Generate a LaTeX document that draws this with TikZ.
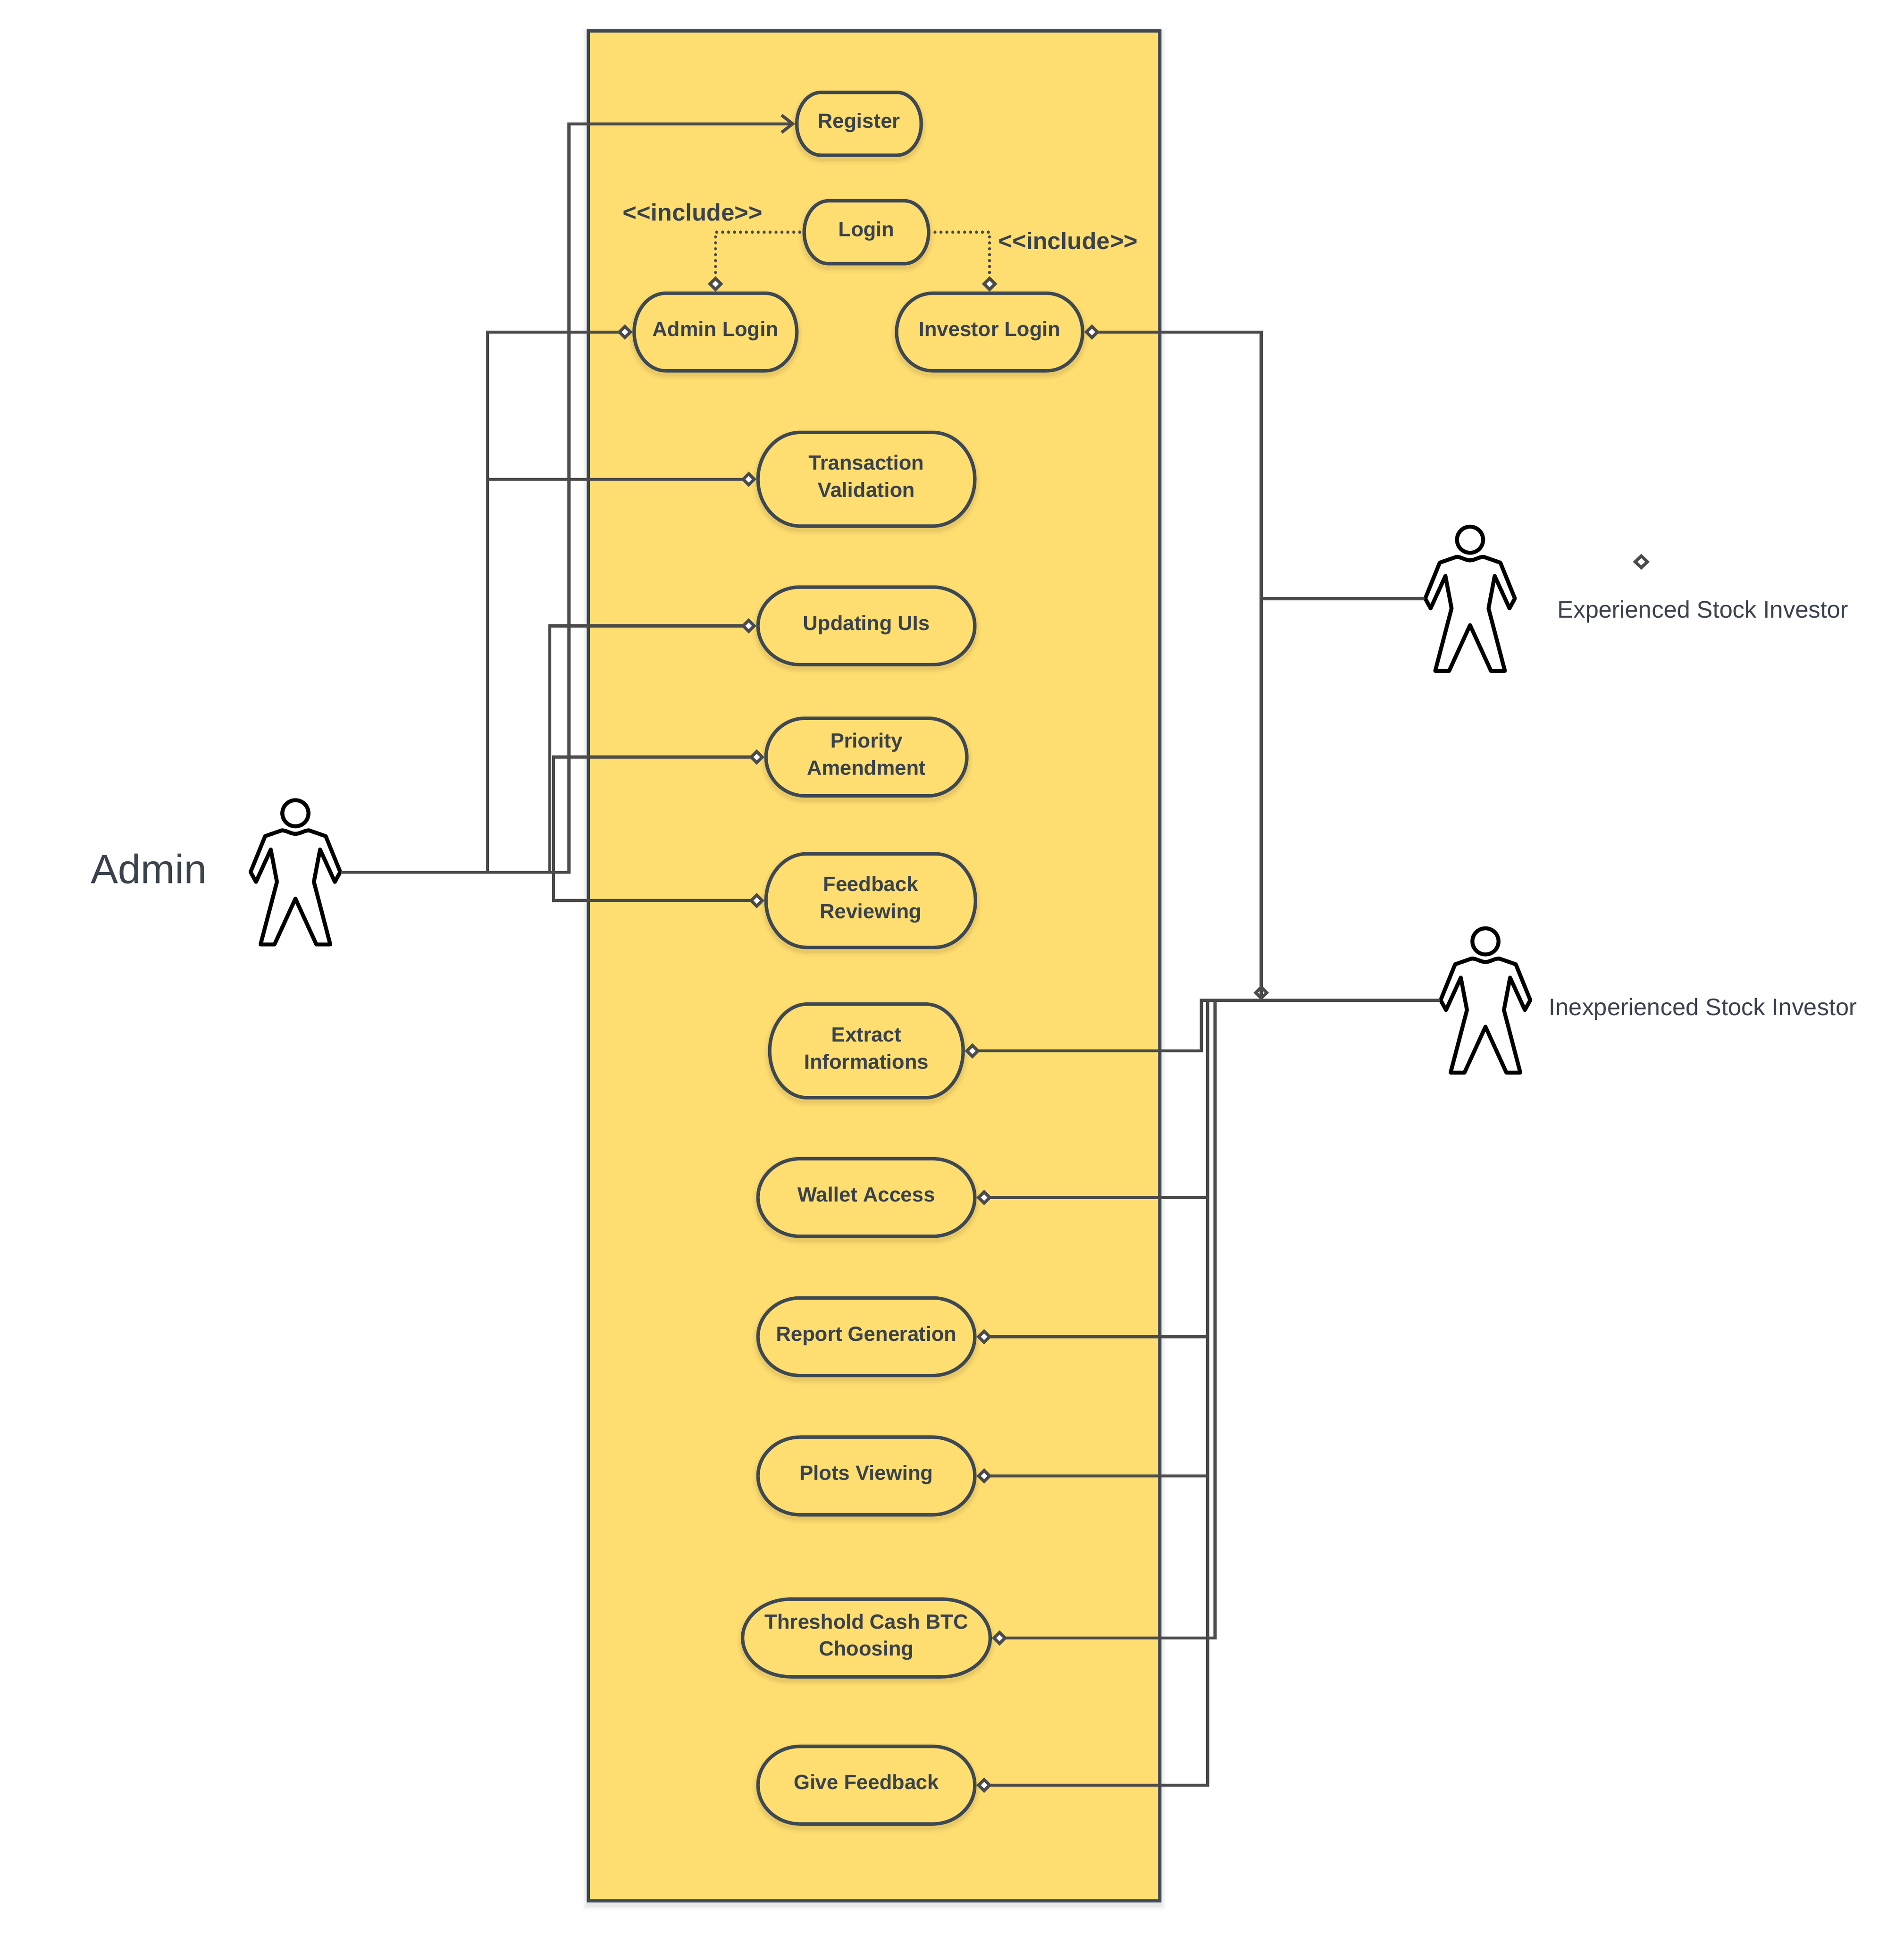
\documentclass[tikz,border=0pt]{standalone}
\usepackage{fontspec}
\usetikzlibrary{arrows.meta,shapes.geometric}
\newfontfamily\lbl{Liberation Sans}
\definecolor{yel}{HTML}{FFDE71}
\definecolor{edge}{HTML}{3E4853}
\definecolor{wire}{HTML}{4A4A4A}
\definecolor{ink}{HTML}{3A424D}
\newcommand\oneline[1]{\raisebox{-3.5pt}[0pt][0pt]{#1}}
\newcommand\twolines[2]{\makebox[0pt]{\raisebox{7.5pt}[0pt][0pt]{#1}}\makebox[0pt]{\raisebox{-14.5pt}[0pt][0pt]{#2}}}
\tikzset{
  softsh/.style={
    preaction={draw=black,draw opacity=.02,line width=10pt,transform canvas={yshift=-2.5pt}},
    preaction={draw=black,draw opacity=.03,line width=7pt,transform canvas={yshift=-2.5pt}},
    preaction={draw=black,draw opacity=.04,line width=4pt,transform canvas={yshift=-2.5pt}}},
  ucshape/.style={draw=edge,fill=yel,line width=2.8pt,softsh},
  uctext/.style={rectangle,inner sep=0pt,outer sep=1.3pt,text=ink,font=\lbl\bfseries\fontsize{16.7}{22}\selectfont},
  incl/.style={anchor=base west,inner sep=0pt,text=ink,font=\lbl\bfseries\fontsize{19.4}{23}\selectfont},
  caption/.style={anchor=base,inner sep=0pt,text=ink,font=\lbl\fontsize{19.4}{23}\selectfont},
  actorbox/.style={rectangle,inner sep=0pt,outer sep=0pt,minimum width=74pt,minimum height=120pt},
  wired/.style={draw=wire,line width=2.5pt},
  assoc/.style={wired,{Diamond[length=12.5pt,width=12.5pt,fill=white]}-},
  dotline/.style={draw=wire,line width=2.5pt,line cap=round,dash pattern=on 0.01pt off 4.8pt,{Diamond[length=12.5pt,width=12.5pt,fill=white]}-},
  person/.pic={
    \draw[black,line width=3.2pt,fill=white] (0,-49) circle[radius=10.6];
    \draw[black,line width=3.2pt,fill=white,line join=round]
      (0,-32.3) .. controls (4,-32.3) and (7,-35.1) .. (11.1,-35.1) -- (24.6,-30.4) -- (36.4,-1.3) -- (32,6.7)
      -- (20,-19.6) -- (15,6.7) -- (28.3,57.5) -- (17,57.5) -- (0,20.3)
      -- (-17,57.5) -- (-28.3,57.5) -- (-15,6.7) -- (-20,-19.6) -- (-32,6.7) -- (-36.4,-1.3) -- (-24.6,-30.4)
      -- (-11.1,-35.1) .. controls (-7,-35.1) and (-4,-32.3) .. (0,-32.3) -- cycle;
  }
}
\newcommand\usecase[6]{%
  \pgfmathsetmacro\uL{#2-#4/2}\pgfmathsetmacro\uR{#2+#4/2}%
  \pgfmathsetmacro\uT{#3-#5/2}\pgfmathsetmacro\uB{#3+#5/2}%
  \pgfmathsetmacro\uA{\uL+0.195*#4}\pgfmathsetmacro\uC{\uR-0.195*#4}%
  \pgfmathsetmacro\uk{0.5523*0.195*#4}\pgfmathsetmacro\uh{0.5523*#5/2}%
  \pgfmathsetmacro\uAk{\uA-\uk}\pgfmathsetmacro\uCk{\uC+\uk}%
  \pgfmathsetmacro\uMu{#3-\uh}\pgfmathsetmacro\uMd{#3+\uh}%
  \path[ucshape] (\uA,\uT) -- (\uC,\uT) .. controls (\uCk,\uT) and (\uR,\uMu) .. (\uR,#3)
    .. controls (\uR,\uMd) and (\uCk,\uB) .. (\uC,\uB) -- (\uA,\uB)
    .. controls (\uAk,\uB) and (\uL,\uMd) .. (\uL,#3)
    .. controls (\uL,\uMu) and (\uAk,\uT) .. (\uA,\uT) -- cycle;
  \node[uctext,minimum width=#4pt,minimum height=#5pt] (#1) at (#2,#3) {#6};%
}
\begin{document}
\begin{tikzpicture}[x=1pt,y=-1pt]
\useasboundingbox (-0.8,0) rectangle (1544.7,1569);
\fill[white] (-0.8,0) rectangle (1544.7,1569);
% system boundary
\node[rectangle,draw=edge,fill=yel,line width=2.7pt,softsh,minimum width=464pt,minimum height=1518pt,inner sep=0pt] (boundary) at (708.7,784) {};
% actors
\node[actorbox] (admin) at (239,708) {};
\node[actorbox] (expert) at (1192.5,486) {};
\node[actorbox] (novice) at (1205,812) {};
\pic at ([yshift=-1.1pt]admin.center) {person};
\pic at ([yshift=-1.1pt]expert.center) {person};
\pic at ([yshift=-1.1pt]novice.center) {person};
% use cases
\usecase{register}{696.5}{100.5}{101}{51}{\oneline{Register}}
\usecase{login}{702.5}{188.5}{101}{51}{\oneline{Login}}
\usecase{adminlogin}{580}{269.5}{132}{63}{\oneline{Admin Login}}
\usecase{investorlogin}{802.5}{269.5}{151}{63}{\oneline{Investor Login}}
\usecase{validation}{702.5}{389}{176}{76}{\twolines{Transaction}{Validation}}
\usecase{updating}{702.5}{508}{176}{63}{\oneline{Updating UIs}}
\usecase{priority}{702.5}{614.5}{163}{63}{\twolines{Priority}{Amendment}}
\usecase{reviewing}{706}{731}{170}{76}{\twolines{Feedback}{Reviewing}}
\usecase{extract}{702.5}{853}{157}{76}{\twolines{Extract}{Informations}}
\usecase{wallet}{702.5}{972}{176}{63}{\oneline{Wallet Access}}
\usecase{report}{702.5}{1085}{176}{63}{\oneline{Report Generation}}
\usecase{plots}{702.5}{1198}{176}{63}{\oneline{Plots Viewing}}
\usecase{threshold}{702.5}{1329.5}{201}{63}{\twolines{Threshold Cash BTC}{Choosing}}
\usecase{givefb}{702.5}{1449}{176}{63}{\oneline{Give Feedback}}
% junction coordinates
\coordinate (aA) at (395,708);
\coordinate (aB) at (445.5,708);
\coordinate (aC) at (448.5,708);
\coordinate (aD) at (461,708);
\coordinate (iA) at (1023,269.5);
\coordinate (iB) at (1023,812);
\coordinate (iC) at (1023,486);
\coordinate (nA) at (974.5,812);
\coordinate (nB) at (979.5,812);
\coordinate (nC) at (985.5,812);
% admin connectors
\draw[assoc] (adminlogin.west) -| (aA) -- (admin.east);
\draw[assoc] (validation.west) -| (aA);
\draw[assoc] (updating.west) -| (aB) -- (admin.east);
\draw[assoc] (priority.west) -| (aC) -- (admin.east);
\draw[assoc] (reviewing.west) -| (aC);
\draw[wired,-{Straight Barb[length=9pt,width=14pt]}] (admin.east) -- (aD) |- (register.west);
% include connectors
\draw[dotline] (adminlogin.north) |- (login.west);
\draw[dotline] (investorlogin.north) |- (login.east);
% investor connectors
\draw[wired,{Diamond[length=12.5pt,width=12.5pt,fill=white]}-{Diamond[length=12.5pt,width=12.5pt,fill=white]}] (investorlogin.east) -- (iA) -- (iB);
\draw[wired] (expert.west) -- (iC) -- (iB);
\draw[assoc] (extract.east) -| (nA) -- (novice.west);
\draw[assoc] (wallet.east) -| (nB) -- (novice.west);
\draw[assoc] (report.east) -| (nB);
\draw[assoc] (plots.east) -| (nB);
\draw[assoc] (threshold.east) -| (nC) -- (novice.west);
\draw[assoc] (givefb.east) -| (nB);
% loose end marker
\node[diamond,draw=wire,fill=white,line width=2.5pt,inner sep=0pt,minimum width=11pt,minimum height=10.5pt] (loose) at (1331.5,456) {};
% labels
\node[incl] (inclA) at (504.7,179.2) {<<include>>};
\node[incl] (inclB) at (809.4,202.2) {<<include>>};
\node[anchor=base,inner sep=0pt,text=ink,font=\lbl\fontsize{33.2}{38}\selectfont] (adminlabel) at (120,717) {Admin};
\node[caption] (expertlabel) at (1381.5,501.5) {Experienced Stock Investor};
\node[caption] (novicelabel) at (1381.5,824) {Inexperienced Stock Investor};
\end{tikzpicture}
\end{document}
